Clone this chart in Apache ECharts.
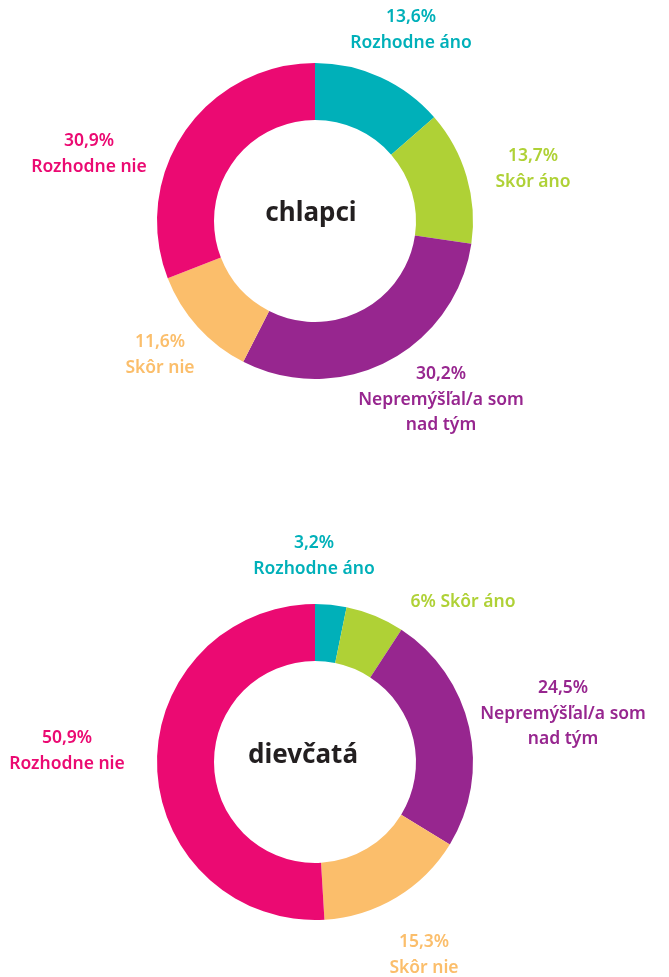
<!DOCTYPE html>
<html>
<head>
<meta charset="utf-8">
<script src="https://cdn.jsdelivr.net/npm/echarts@6/dist/echarts.min.js"></script>
<style>
  html, body { margin: 0; padding: 0; background: #fff; }
  #chart { width: 669px; height: 977px; }
</style>
</head>
<body>
<div id="chart"></div>
<script>
// kategórie (rovnaké poradie pre oba grafy, v smere hodinových ručičiek od 12:00)
var categories = ['Rozhodne áno', 'Skôr áno', 'Nepremýšľal/a som\nnad tým', 'Skôr nie', 'Rozhodne nie'];
var boysValues = [13.6, 13.7, 30.2, 11.6, 30.9];
var girlsValues = [3.2, 6, 24.5, 15.3, 50.9];
var chartTitles = ['chlapci', 'dievčatá'];

var colors = ['#00B0B9', '#AFD136', '#97268F', '#FBBE6B', '#EB0A72'];

// pozicie popiskov (stred textu), px
var boysLabelPos = [[411, 30], [533, 169], [441, 400], [160, 355], [89, 154]];
var girlsLabelPos = [[314, 556], [463, 602], [563, 714], [424, 955], [67, 751]];
var girlsInline = [false, true, false, false, false]; // "6% Skôr áno" v jednom riadku

var FONT = '"Noto Sans", "Open Sans", sans-serif';

function fmt(v) {
    return String(v).replace('.', ',') + '%';
}

function buildData(values, inline) {
    return values.map(function (v, i) {
        var sep = (inline && inline[i]) ? ' ' : '\n';
        return {
            name: categories[i],
            value: v,
            itemStyle: { color: colors[i] },
            label: { color: colors[i], formatter: fmt(v) + sep + categories[i] }
        };
    });
}

function donut(center, values, inline, pos) {
    return {
        type: 'pie',
        center: center,
        radius: [101, 158],
        startAngle: 90,
        clockwise: true,
        avoidLabelOverlap: false,
        silent: true,
        itemStyle: { borderWidth: 0 },
        label: {
            show: true,
            position: 'outside',
            fontFamily: FONT,
            fontWeight: 600,
            fontSize: 17.5,
            lineHeight: 25.5,
            align: 'center'
        },
        labelLine: { show: false },
        labelLayout: function (params) {
            var p = pos[params.dataIndex];
            return { x: p[0], y: p[1], align: 'center', verticalAlign: 'middle' };
        },
        data: buildData(values, inline)
    };
}

var myChart = echarts.init(document.getElementById('chart'));
myChart.setOption({
    animation: false,
    backgroundColor: '#fff',
    graphic: [
        { type: 'text', x: 311, y: 214, style: { text: chartTitles[0], fill: '#231F20', font: 'bold 26px ' + FONT, align: 'center', verticalAlign: 'middle' } },
        { type: 'text', x: 303, y: 756, style: { text: chartTitles[1], fill: '#231F20', font: 'bold 26px ' + FONT, align: 'center', verticalAlign: 'middle' } }
    ],
    series: [
        donut([315, 221], boysValues, null, boysLabelPos),
        donut([315, 762], girlsValues, girlsInline, girlsLabelPos)
    ]
});
</script>
</body>
</html>
